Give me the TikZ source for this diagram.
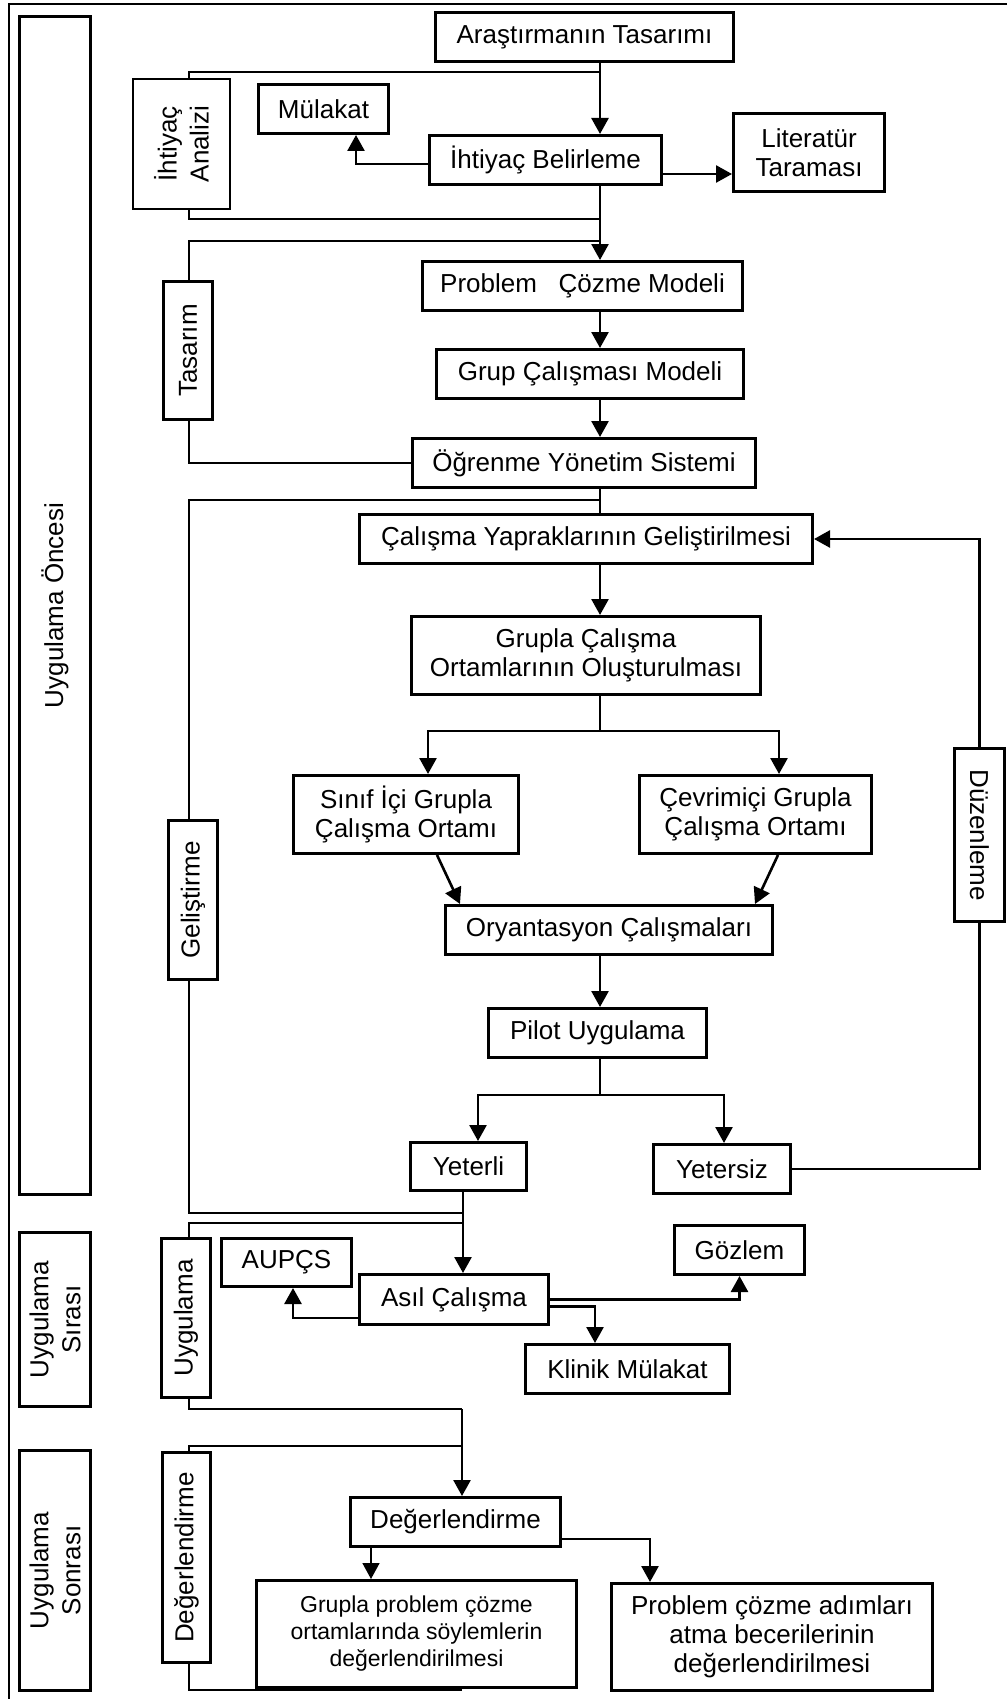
\documentclass[tikz,border=0pt]{standalone}
\usepackage{fontspec}
\setmainfont{Liberation Sans}
\usetikzlibrary{arrows.meta}

\tikzset{
    stepbox/.style={rectangle, draw, line width=3pt, align=center, inner sep=2pt, font=\fontsize{26}{29}\selectfont},
    phasebox/.style={rectangle, draw, line width=3pt, align=center, inner sep=2pt, rotate=90, font=\fontsize{26}{32}\selectfont},
    wire/.style={line width=2.6pt},
    flow/.style={wire, -{Triangle[length=16pt, width=17pt]}},
}

\begin{document}
\begin{tikzpicture}[x=1pt, y=-1pt]
        \useasboundingbox (0, 0) rectangle (1007, 1699);
        \draw[line width=1.4pt] (1007, 4) -- (9, 4) -- (9, 1699);

        % phase columns (rotated: east is the top, west the bottom)
        \node (oncesi) at (55, 605.5) [phasebox, minimum width=1178pt, minimum height=71pt] {Uygulama Öncesi};
        \node (sirasi) at (55, 1319.5) [phasebox, minimum width=174pt, minimum height=71pt] {Uygulama\\Sırası};
        \node (sonrasi) at (55, 1570.5) [phasebox, minimum width=240pt, minimum height=71pt] {Uygulama\\Sonrası};

        \node (ihtiyac) at (181.5, 144) [phasebox, line width=2pt, minimum width=130pt, minimum height=97pt] {İhtiyaç\\Analizi};
        \node (tasarim) at (188, 350.5) [phasebox, minimum width=138pt, minimum height=49pt] {Tasarım};
        \node (gelistirme) at (193, 900) [phasebox, minimum width=159pt, minimum height=49pt] {Geliştirme};
        \node (uygulama) at (186, 1318) [phasebox, minimum width=159pt, minimum height=49pt] {Uygulama};
        \node (degerlendirme) at (186.5, 1557.5) [phasebox, minimum width=210pt, minimum height=48pt] {Değerlendirme};

        % main flow
        \node (tasari) at (584.5, 37) [stepbox, minimum width=298pt, minimum height=49pt] {Araştırmanın Tasarımı};
        \node (mulakat) at (323.5, 109) [stepbox, minimum width=130pt, minimum height=49pt] {Mülakat};
        \node (belirleme) at (545.5, 160) [stepbox, minimum width=232pt, minimum height=49pt] {İhtiyaç Belirleme};
        \node (literatur) at (809, 152.5) [stepbox, minimum width=151pt, minimum height=78pt] {Literatür\\Taraması};
        \node (problem) at (582.5, 286) [stepbox, minimum width=320pt, minimum height=49pt] {Problem\ \ \ Çözme Modeli};
        \node (grup) at (590, 374) [stepbox, minimum width=307pt, minimum height=49pt] {Grup Çalışması Modeli};
        \node (oys) at (584, 463) [stepbox, minimum width=343pt, minimum height=49pt] {Öğrenme Yönetim Sistemi};
        \node (yaprak) at (586, 539) [stepbox, minimum width=453pt, minimum height=49pt] {Çalışma Yapraklarının Geliştirilmesi};
        \node (ortam) at (586, 655.5) [stepbox, minimum width=349pt, minimum height=78pt] {Grupla Çalışma\\Ortamlarının Oluşturulması};
        \node (sinif) at (406, 814.5) [stepbox, minimum width=225pt, minimum height=78pt] {Sınıf İçi Grupla\\Çalışma Ortamı};
        \node (cevrim) at (755.5, 814.5) [stepbox, minimum width=232pt, minimum height=78pt] {Çevrimiçi Grupla\\Çalışma Ortamı};
        \node (oryan) at (609, 930) [stepbox, minimum width=327pt, minimum height=49pt] {Oryantasyon Çalışmaları};
        \node (pilot) at (597.5, 1033) [stepbox, minimum width=218pt, minimum height=49pt] {Pilot Uygulama};
        \node (yeterli) at (468.5, 1166.5) [stepbox, minimum width=116pt, minimum height=48pt] {Yeterli};
        \node (yetersiz) at (722, 1169) [stepbox, minimum width=137pt, minimum height=49pt] {Yetersiz};
        \node (duzen) at (979.5, 835) [phasebox, rotate=180, minimum width=173pt, minimum height=50pt] {Düzenleme};

        \node (aupcs) at (286.5, 1262.5) [stepbox, minimum width=130pt, minimum height=48pt] {AUPÇS};
        \node (asil) at (454, 1299.5) [stepbox, minimum width=189pt, minimum height=50pt] {Asıl Çalışma};
        \node (gozlem) at (739.5, 1250) [stepbox, minimum width=130pt, minimum height=49pt] {Gözlem};
        \node (klinik) at (627.5, 1369) [stepbox, minimum width=204pt, minimum height=49pt] {Klinik Mülakat};
        \node (deger) at (455.5, 1522) [stepbox, minimum width=210pt, minimum height=49pt] {Değerlendirme};
        \node (soylem) at (416.5, 1634) [stepbox, font=\fontsize{23}{27}\selectfont, minimum width=320pt, minimum height=107pt] {Grupla problem çözme\\ortamlarında söylemlerin\\değerlendirilmesi};
        \node (adim) at (772, 1637) [stepbox, minimum width=321pt, minimum height=107pt] {Problem çözme adımları\\atma becerilerinin\\değerlendirilmesi};

        % junctions
        \coordinate (spine) at (600, 0);
        \coordinate (rail) at (189, 0);
        \coordinate (iatop) at (600, 72);
        \coordinate (iabot) at (600, 219);
        \coordinate (tstop) at (600, 241);
        \coordinate (gltop) at (600, 500);
        \coordinate (glbot) at (463, 1213);
        \coordinate (uytop) at (463, 1223);
        \coordinate (uybot) at (462, 1409);
        \coordinate (dgtop) at (462, 1446);
        \coordinate (dgbot) at (462, 1690);
        \coordinate (fork1) at (600, 731);
        \coordinate (fork2) at (600, 1095);
        \coordinate (litin) at ([yshift=-14pt]belirleme.east);
        \coordinate (dgout) at ([xshift=-84.5pt]deger.south);

        % brackets of the phases
        \draw[wire] (ihtiyac.east -| rail) |- (iatop);
        \draw[wire] (ihtiyac.west -| rail) |- (iabot);
        \draw[wire] (tasarim.east -| rail) |- (tstop);
        \draw[wire] (tasarim.west -| rail) |- (oys.west);
        \draw[wire] (gelistirme.east -| rail) |- (gltop);
        \draw[wire] (gelistirme.west -| rail) |- (glbot);
        \draw[wire] (uygulama.east -| rail) |- (uytop);
        \draw[wire] (uygulama.west -| rail) |- (uybot);
        \draw[wire] (degerlendirme.east -| rail) |- (dgtop);
        \draw[wire] (degerlendirme.west -| rail) |- (dgbot);

        % arrows
        \draw[flow] (tasari.south -| spine) -- (belirleme.north -| spine);
        \draw[flow] ([yshift=-4pt]belirleme.west) -| ([xshift=32.5pt]mulakat.south);
        \draw[flow] (litin) -- (litin -| literatur.west);
        \draw[flow] (belirleme.south -| spine) -- (problem.north -| spine);
        \draw[flow] (problem.south -| spine) -- (grup.north -| spine);
        \draw[flow] (grup.south -| spine) -- (oys.north -| spine);
        \draw[wire] (oys.south -| spine) -- (yaprak.north -| spine);
        \draw[flow] (yaprak.south -| spine) -- (ortam.north -| spine);
        \draw[wire] (ortam.south -| spine) -- (fork1);
        \draw[flow] (fork1) -| ([xshift=22pt]sinif.north);
        \draw[flow] (fork1) -| ([xshift=23.5pt]cevrim.north);
        \draw[flow] ([xshift=31pt]sinif.south) -- ([xshift=-149pt]oryan.north);
        \draw[flow] ([xshift=22.5pt]cevrim.south) -- ([xshift=146pt]oryan.north);
        \draw[flow] (oryan.south -| spine) -- (pilot.north -| spine);
        \draw[wire] (pilot.south -| spine) -- (fork2);
        \draw[flow] (fork2) -| ([xshift=9.5pt]yeterli.north);
        \draw[flow] (fork2) -| ([xshift=2pt]yetersiz.north);
        \draw[wire] (yetersiz.east) -| (duzen.east);
        \draw[flow] (duzen.west) |- (yaprak.east);
        \draw[flow] (yeterli.south -| uytop) -- (asil.north -| uytop);
        \draw[flow] ([yshift=-18.5pt]asil.west) -| ([xshift=6.5pt]aupcs.south);
        \draw[flow] (asil.east) -| (gozlem.south);
        \draw[flow] ([yshift=-7pt]asil.east) -| ([xshift=-32.5pt]klinik.north);
        \draw[flow] (uybot) -- (deger.north -| uybot);
        \draw[flow, line width=1.6pt] (dgout) -- (dgout |- soylem.north);
        \draw[flow] ([yshift=-17pt]deger.east) -| ([xshift=-122pt]adim.north);
    \end{tikzpicture}
\end{document}
